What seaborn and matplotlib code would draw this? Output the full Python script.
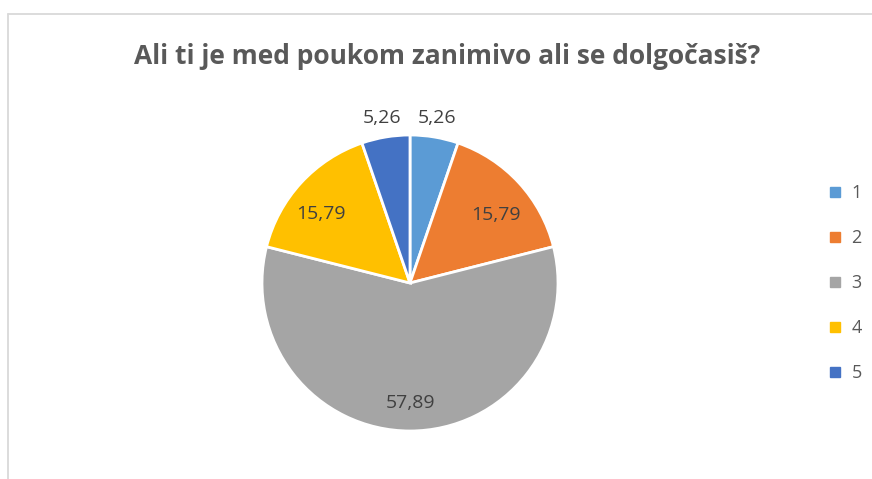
import numpy as np
import matplotlib
matplotlib.use('Agg')
import matplotlib.pyplot as plt
from matplotlib.lines import Line2D
import seaborn as sns

# data
categories = ['1', '2', '3', '4', '5']
values = [5.26, 15.79, 57.89, 15.79, 5.26]
value_labels = ['5,26', '15,79', '57,89', '15,79', '5,26']
colors = ['#5B9BD5', '#ED7D31', '#A5A5A5', '#FFC000', '#4472C4']

sns.set_theme(style='white')
plt.rcParams['font.family'] = ['Open Sans', 'DejaVu Sans']

W, H = 872, 479
fig = plt.figure(figsize=(W / 100, H / 100), dpi=100)
fig.patch.set_facecolor('white')

# pie centre and radius in pixels
cx, cy, r = 410, 283, 148
ax = fig.add_axes([(cx - r) / W, (H - cy - r) / H, 2 * r / W, 2 * r / H])

wedges, _ = ax.pie(values, colors=sns.color_palette(colors), startangle=90,
                   counterclock=False,
                   wedgeprops=dict(edgecolor='white', linewidth=2))
ax.set_xlim(-1, 1)
ax.set_ylim(-1, 1)
ax.set_aspect('equal')

# data labels: small slices outside, bigger ones inside
dists = [1.13, 0.74, 0.81, 0.76, 1.13]
shifts = [0, -4, 0, 5, 0]
for w, lab, d, s in zip(wedges, value_labels, dists, shifts):
    ang = np.deg2rad((w.theta1 + w.theta2) / 2 + s)
    ax.text(d * np.cos(ang), d * np.sin(ang), lab, ha='center', va='center',
            fontsize=14, color='#404040', clip_on=False)

fig.text(447 / W, 1 - 57 / H, 'Ali ti je med poukom zanimivo ali se dolgočasiš?',
         ha='center', va='center', fontsize=19, fontweight='bold', color='#595959')

handles = [Line2D([], [], marker='s', linestyle='', markersize=7,
                  markerfacecolor=c, markeredgecolor=c) for c in colors]
fig.legend(handles, categories, loc='center left',
           bbox_to_anchor=(808 / W, 1 - 283 / H), frameon=False,
           fontsize=13, labelcolor='#595959', labelspacing=1.5,
           handletextpad=0.3, handlelength=1.2)

# partial chart-area border (top and left edges)
fig.add_artist(Line2D([8 / W, 1], [1 - 14 / H, 1 - 14 / H], color='#D9D9D9', lw=1.3))
fig.add_artist(Line2D([8 / W, 8 / W], [0, 1 - 14 / H], color='#D9D9D9', lw=1.3))

fig.savefig('out.png', dpi=100)
